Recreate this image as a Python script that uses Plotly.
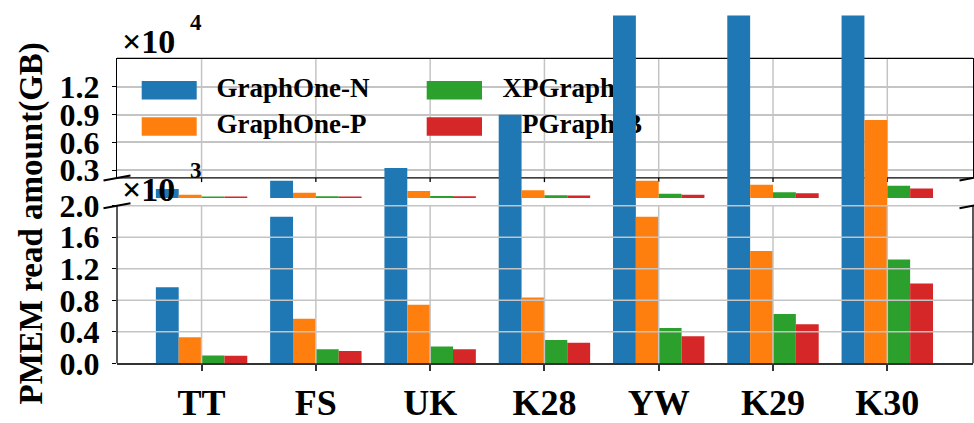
import numpy as np
import plotly.graph_objects as go

# ---- data (GB) ----
categories = ["TT", "FS", "UK", "K28", "YW", "K29", "K30"]
graphone_n = [967, 1860, 3230, 9000, 28000, 36000, 52000]
graphone_p = [332, 567, 743, 837, 1860, 1425, 8430]
xpgraph = [100, 180, 215, 297, 450, 626, 1319]
xpgraph_b = [97, 156, 180, 262, 345, 497, 1013]

series_names = ["GraphOne-N", "GraphOne-P", "XPGraph", "XPGraph-B"]
series_values = [graphone_n, graphone_p, xpgraph, xpgraph_b]
colors = ["#1f77b4", "#ff7f0e", "#2ca02c", "#d62728"]

low_ticks = [0, 400, 800, 1200, 1600, 2000]
low_labels = ["0.0", "0.4", "0.8", "1.2", "1.6", "2.0"]
high_ticks = [3000, 6000, 9000, 12000]
high_labels = ["0.3", "0.6", "0.9", "1.2"]

# ---- geometry (pixels in a 974x423 canvas) ----
W, H = 974, 423
X_LEFT, X_RIGHT = 117, 973
LOW_ZERO, LOW_TOP_CLIP, LOW_FRAME_TOP = 382.3, 203.3, 211.7
LOW_PX_PER_UNIT = (LOW_ZERO - LOW_FRAME_TOP) / 2000.0
HIGH_ZERO, HIGH_FRAME_BOT, HIGH_FRAME_TOP, HIGH_CLIP_TOP = 203.3, 181.7, 52.3, 6.0
HIGH_PX_PER_UNIT = 30.0 / 3000.0
XMIN, XMAX = -0.74, 6.75

def fx(px):
    return px / W

def fy(py):
    return 1 - py / H

def high_val(py):
    return (HIGH_ZERO - py) / HIGH_PX_PER_UNIT

def xval(px):
    return XMIN + (px - X_LEFT) / (X_RIGHT - X_LEFT) * (XMAX - XMIN)

idx = np.arange(len(categories))
FONT = "Liberation Serif"
GRID = "#c4c4c4"
FRAME_H = HIGH_FRAME_BOT - HIGH_FRAME_TOP

fig = go.Figure()

# lower panel bars
for name, vals, col in zip(series_names, series_values, colors):
    fig.add_trace(go.Bar(x=idx, y=vals, name=name, marker_color=col,
                         marker_line_width=0, showlegend=False,
                         xaxis="x", yaxis="y"))

# legend (swatches + labels) lives in the upper frame so the tall bars can cover it
sw_x = [(141.7, 196.7), (426.7, 482.0)]
sw_y = [(76.7, 96.7), (116.0, 136.0)]
legend_rows = [87.0, 126.0]
legend_text_x = [216.5, 502.5]
lx, ly, lt = [], [], []
for i, (name, col) in enumerate(zip(series_names, colors)):
    col_i, row_i = divmod(i, 2)
    xa, xb = xval(sw_x[col_i][0]), xval(sw_x[col_i][1])
    ya, yb = high_val(sw_y[row_i][1]), high_val(sw_y[row_i][0])
    fig.add_trace(go.Scatter(x=[xa, xb, xb, xa, xa], y=[ya, ya, yb, yb, ya],
                             mode="lines", fill="toself", fillcolor=col,
                             line=dict(width=0, color=col), showlegend=False,
                             hoverinfo="skip", xaxis="x", yaxis="y2"))
    lx.append(xval(legend_text_x[col_i]))
    ly.append(high_val(legend_rows[row_i]))
    lt.append(name)
fig.add_trace(go.Scatter(x=lx, y=ly, text=lt, mode="text",
                         textposition="middle right",
                         textfont=dict(family=FONT, size=27, color="black", weight="bold"),
                         showlegend=False, hoverinfo="skip", cliponaxis=False,
                         xaxis="x", yaxis="y2"))

# upper panel bars (same data, larger scale)
for name, vals, col in zip(series_names, series_values, colors):
    fig.add_trace(go.Bar(x=idx, y=vals, name=name, marker_color=col,
                         marker_line_width=0, showlegend=False,
                         xaxis="x", yaxis="y3"))

tickfont = dict(family=FONT, size=32, color="black", weight="bold")

fig.update_layout(
    width=W, height=H,
    margin=dict(l=0, r=0, t=0, b=0),
    paper_bgcolor="white", plot_bgcolor="rgba(0,0,0,0)",
    barmode="group", bargap=0.2, bargroupgap=0,
    showlegend=False,
    xaxis=dict(domain=[fx(X_LEFT), fx(X_RIGHT)], range=[XMIN, XMAX], anchor="y",
               tickvals=idx, ticktext=categories, ticks="outside", ticklen=6,
               tickwidth=1.5, tickcolor="#333", showline=True, linecolor="#333",
               linewidth=2, showgrid=False, zeroline=False,
               tickfont=dict(family=FONT, size=36, color="black", weight="bold")),
    yaxis=dict(domain=[fy(LOW_ZERO), fy(LOW_TOP_CLIP)],
               range=[0, (LOW_ZERO - LOW_TOP_CLIP) / LOW_PX_PER_UNIT], anchor="x",
               tickvals=low_ticks, ticktext=low_labels, ticks="outside", ticklen=4,
               tickwidth=1.3, tickcolor="black", showgrid=False, showline=False,
               zeroline=False, tickfont=dict(tickfont), ticklabelstandoff=6),
    yaxis2=dict(domain=[fy(HIGH_FRAME_BOT), fy(HIGH_FRAME_TOP)],
                range=[high_val(HIGH_FRAME_BOT), high_val(HIGH_FRAME_TOP)], anchor="x",
                tickvals=high_ticks, ticktext=high_labels, ticks="outside", ticklen=4,
                tickwidth=1.3, tickcolor="black", showline=True, mirror=True,
                linecolor="black", linewidth=1.3, showgrid=True, gridcolor=GRID,
                gridwidth=1.5, zeroline=False, tickfont=dict(tickfont),
                ticklabelstandoff=6),
    yaxis3=dict(domain=[fy(HIGH_ZERO), fy(HIGH_CLIP_TOP)],
                range=[0, high_val(HIGH_CLIP_TOP)], anchor="x", visible=False),
)

shapes = []
# lower panel grid, drawn over the bars
for v in low_ticks[1:]:
    shapes.append(dict(type="line", xref="x domain", yref="y", x0=0, x1=1, y0=v, y1=v,
                       line=dict(color=GRID, width=1.5), layer="above"))
for i in idx:
    shapes.append(dict(type="line", xref="x", yref="y", x0=i, x1=i, y0=0, y1=2000,
                       line=dict(color=GRID, width=1.5), layer="above"))
# lower panel side spines
for xd in (0, 1):
    shapes.append(dict(type="line", xref="x domain", yref="y", x0=xd, x1=xd, y0=0, y1=2000,
                       line=dict(color="black", width=1.3), layer="above"))

# upper frame: vertical grid, top/bottom spines and category ticks (under the bars)
for i in idx:
    shapes.append(dict(type="line", xref="x", yref="y2 domain", x0=i, x1=i, y0=0, y1=1,
                       line=dict(color=GRID, width=1.5), layer="below"))
for yd in (0, 1):
    shapes.append(dict(type="line", xref="x domain", yref="y2 domain", x0=0, x1=1,
                       y0=yd, y1=yd, line=dict(color="black", width=1.3), layer="below"))
for i in idx:
    shapes.append(dict(type="line", xref="x", yref="y2 domain", x0=i, x1=i, y0=0,
                       y1=-4.5 / FRAME_H, line=dict(color="black", width=1.3),
                       layer="below"))

# axis-break marks
dx, dy = 13.5, 2.7
for xc in (X_LEFT, X_RIGHT):
    for yc in (HIGH_FRAME_BOT, LOW_FRAME_TOP):
        shapes.append(dict(type="line", xref="paper", yref="paper",
                           x0=fx(xc - dx), y0=fy(yc + dy), x1=fx(xc + dx), y1=fy(yc - dy),
                           line=dict(color="black", width=2), layer="above"))
fig.update_layout(shapes=shapes)

def note(text, px, py, size, **kw):
    return dict(text=text, xref="paper", yref="paper", x=fx(px), y=fy(py),
                showarrow=False, font=dict(family=FONT, size=size, color="black"), **kw)

annotations = [
    note("<b>PMEM read amount(GB)</b>", 32, 231, 33, textangle=-90,
         xanchor="center", yanchor="middle"),
    # scale factors of the two panels
    note("<b>×10</b>", 120, 34, 34, xanchor="left", yanchor="middle"),
    note("<b>4</b>", 188, 14, 23, xanchor="left", yanchor="middle"),
    note("<b>×10</b>", 120, 194.5, 34, xanchor="left", yanchor="middle"),
    note("<b>3</b>", 188, 173.5, 23, xanchor="left", yanchor="middle"),
]
fig.update_layout(annotations=annotations)

fig.write_html("out.html")
